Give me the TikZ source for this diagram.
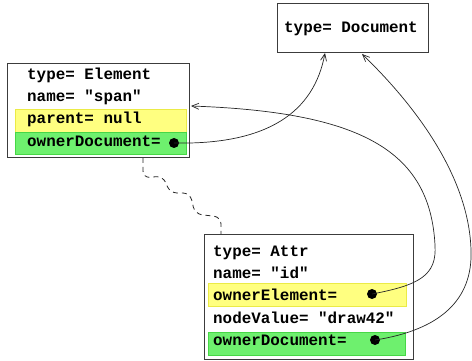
\documentclass[tikz,border=0pt]{standalone}
\usepackage{fontspec}
\setmonofont{Liberation Mono}
\usetikzlibrary{arrows.meta}
\definecolor{boxline}{RGB}{60,60,60}
\definecolor{yelfill}{RGB}{255,255,128}
\definecolor{yelline}{RGB}{235,235,70}
\definecolor{grnfill}{RGB}{110,240,110}
\definecolor{grnline}{RGB}{70,215,70}
\tikzset{
  objbox/.style={draw=boxline, line width=0.9pt},
  yelband/.style={fill=yelfill, draw=yelline, line width=0.8pt},
  grnband/.style={fill=grnfill, draw=grnline, line width=0.8pt},
  field/.style={anchor=base west, inner sep=0pt, font=\ttfamily\bfseries\fontsize{15.9}{18}\selectfont},
  dot/.style={circle, fill=black, inner sep=0pt, minimum size=10pt},
  ref/.style={draw=black!85, line width=0.7pt, -{Straight Barb[length=7pt,width=6pt]}},
  link/.style={draw=black!85, line width=0.8pt, dashed, dash pattern=on 5pt off 4pt, rounded corners=7pt}
}
\begin{document}
\begin{tikzpicture}[x=1pt, y=-1pt]
\useasboundingbox (0,0) rectangle (472,361);

% Document object
\draw[objbox] (277,3) rectangle (428,52);
\node[field] (dtype) at (284,33) {type= Document};
\coordinate (docL) at (325,53);
\coordinate (docR) at (362,54);

% Element object
\draw[objbox] (7.5,63.5) rectangle (189.5,157.5);
\fill[yelband] (15,109) rectangle (186,132);
\fill[grnband] (15,132) rectangle (186,154);
\node[field] (etype) at (27,80) {type= Element};
\node[field] (ename) at (27,102) {name= "span"};
\node[field] (epar)  at (27,124) {parent= null};
\node[field] (edoc)  at (27,146.5) {ownerDocument=};
\node[dot] (edot) at (174,143) {};
\coordinate (elemR) at (191,106);
\coordinate (elemB) at (143,158);

% Attr object
\draw[objbox] (204,234) rectangle (413,359);
\fill[yelband] (208,283) rectangle (406,306);
\fill[grnband] (208,332) rectangle (405,355);
\node[field] (atype) at (213,256.5) {type= Attr};
\node[field] (aname) at (213,278.5) {name= "id"};
\node[field] (aown)  at (213,300.5) {ownerElement=};
\node[field] (aval)  at (213,323.5) {nodeValue= "draw42"};
\node[field] (adoc)  at (213,345.5) {ownerDocument=};
\node[dot] (aedot) at (372,294) {};
\node[dot] (addot) at (375,340) {};
\coordinate (attrT) at (221,234);

% references between objects
\draw[ref] (edot.center) .. controls (268,145) and (314,112) .. (docL);
\draw[ref] (aedot.center) .. controls (420,285) and (437,275) .. (435,245)
  .. controls (430,150) and (360,112) .. (elemR);
\draw[ref] (addot.center) .. controls (440,330) and (473,300) .. (471,250)
  .. controls (469,180) and (420,110) .. (docR);

% dashed link from element to attribute
\draw[link] (elemB) -- (143,178) -- (163,176) -- (170,193) -- (190,193)
  -- (195,214) -- (221,217) -- (attrT);
\end{tikzpicture}
\end{document}
